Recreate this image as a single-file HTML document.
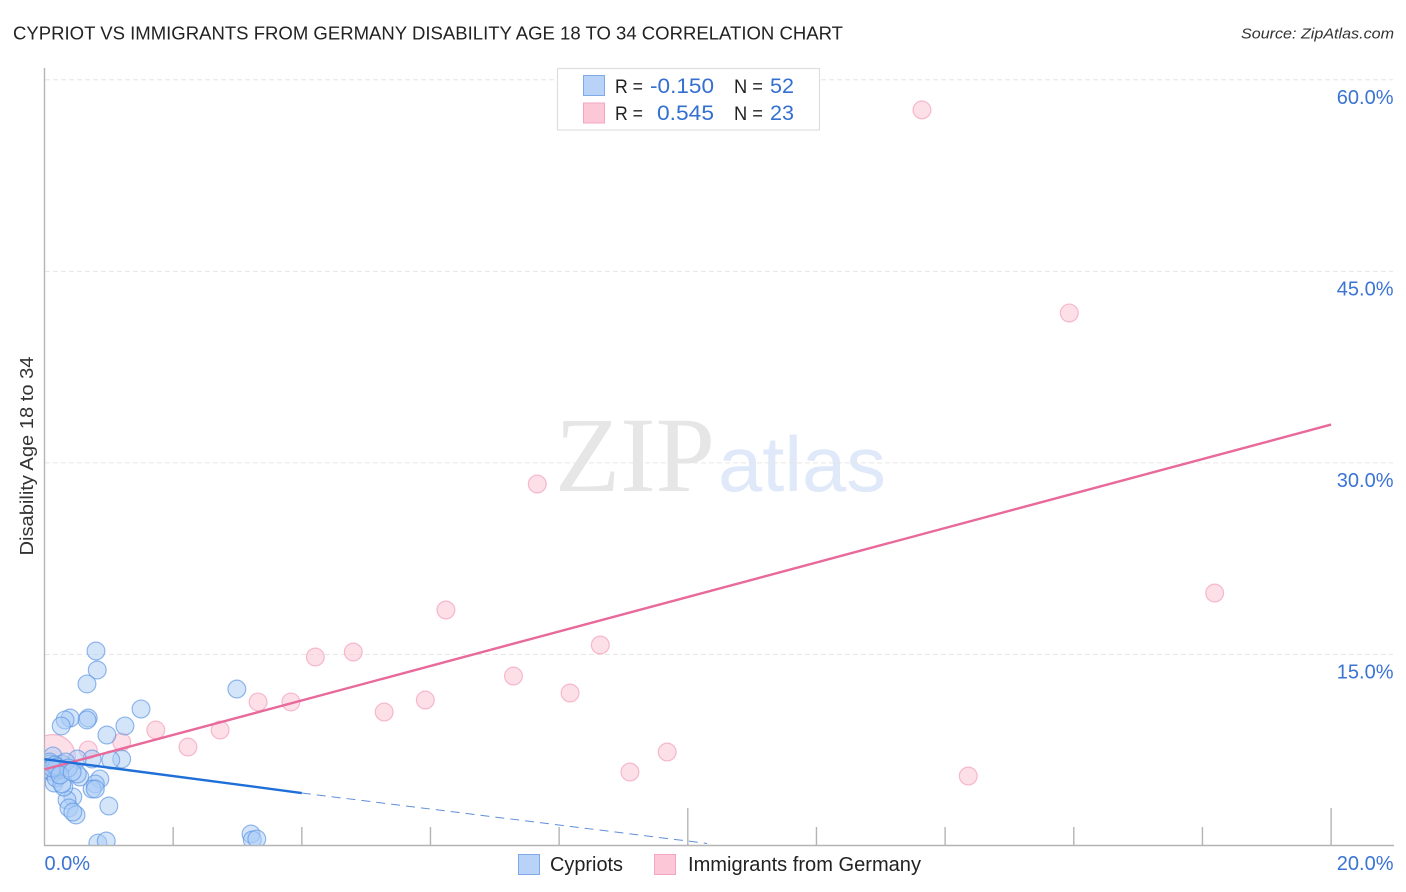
<!DOCTYPE html>
<html lang="en">
<head>
<meta charset="utf-8">
<title>Cypriot vs Immigrants from Germany Disability Age 18 to 34 Correlation Chart</title>
<style>
html,body{margin:0;padding:0;background:#fff;width:1406px;height:892px;overflow:hidden}
svg{display:block}
text{font-family:"Liberation Sans",sans-serif}
</style>
</head>
<body>
<svg id="chart" width="1406" height="892" viewBox="0 0 1406 892" xmlns="http://www.w3.org/2000/svg">
  <defs>
    <clipPath id="plot-clip"><rect x="45" y="60" width="1349" height="785"></rect></clipPath>
  </defs>
  <rect x="0" y="0" width="1406" height="892" fill="#fff"></rect>
  <text x="13" y="39.5" font-size="18.5" fill="#222" textLength="830" lengthAdjust="spacingAndGlyphs">CYPRIOT VS IMMIGRANTS FROM GERMANY DISABILITY AGE 18 TO 34 CORRELATION CHART</text>
  <text x="1241" y="38.5" font-size="15" font-style="italic" fill="#333" textLength="153" lengthAdjust="spacingAndGlyphs">Source: ZipAtlas.com</text>

  <g>
    <text x="555" y="491" font-size="107" style="font-family:'Liberation Serif',serif" fill="#e6e6e6" textLength="160" lengthAdjust="spacingAndGlyphs">ZIP</text>
    <text x="718" y="491" font-size="78" fill="#dfe9f9" textLength="168" lengthAdjust="spacingAndGlyphs">atlas</text>
  </g>

  <g id="grid"></g>
  <g id="axes"></g>
  <g id="points" clip-path="url(#plot-clip)"></g>
  <g id="trends"></g>
  <g id="labels"></g>

  <text transform="translate(33,456) rotate(-90)" text-anchor="middle" font-size="18" fill="#333" textLength="199" lengthAdjust="spacingAndGlyphs">Disability Age 18 to 34</text>

  <g>
    <rect x="557.5" y="68.5" width="262" height="61.5" fill="#fff" stroke="#dedede" stroke-width="1.2"></rect>
    <rect x="583.5" y="75.5" width="21" height="20" fill="#b8d3f7" stroke="#7faae6" stroke-width="1"></rect>
    <rect x="583.5" y="103" width="21" height="20" fill="#fcc8d8" stroke="#f2a6bf" stroke-width="1"></rect>
    <text x="615" y="93" font-size="19" fill="#222" textLength="28" lengthAdjust="spacingAndGlyphs">R =</text>
    <text x="650" y="93" font-size="21" fill="#3370d0" textLength="64" lengthAdjust="spacingAndGlyphs">-0.150</text>
    <text x="734" y="93" font-size="19" fill="#222" textLength="29" lengthAdjust="spacingAndGlyphs">N =</text>
    <text x="770" y="93" font-size="21" fill="#3370d0" textLength="24" lengthAdjust="spacingAndGlyphs">52</text>
    <text x="615" y="120" font-size="19" fill="#222" textLength="28" lengthAdjust="spacingAndGlyphs">R =</text>
    <text x="657" y="120" font-size="21" fill="#3370d0" textLength="57" lengthAdjust="spacingAndGlyphs">0.545</text>
    <text x="734" y="120" font-size="19" fill="#222" textLength="29" lengthAdjust="spacingAndGlyphs">N =</text>
    <text x="770" y="120" font-size="21" fill="#3370d0" textLength="24" lengthAdjust="spacingAndGlyphs">23</text>
  </g>

  <g>
    <rect x="518.5" y="854.5" width="21" height="20" fill="#b8d3f7" stroke="#7faae6" stroke-width="1"></rect>
    <text x="550" y="871" font-size="20" fill="#222" textLength="73" lengthAdjust="spacingAndGlyphs">Cypriots</text>
    <rect x="654.5" y="854.5" width="21" height="20" fill="#fcc8d8" stroke="#f2a6bf" stroke-width="1"></rect>
    <text x="688" y="871" font-size="20" fill="#222" textLength="233" lengthAdjust="spacingAndGlyphs">Immigrants from Germany</text>
  </g>
</svg>
<script>
// Data (percent values)
const yTickValues = [15, 30, 45, 60];
const yTickLabels = ["15.0%", "30.0%", "45.0%", "60.0%"];
const xTickValues = [2, 4, 6, 8, 10, 12, 14, 16, 18, 20];
const xMajorTicks = [10, 20];
const xEdgeValues = [0, 20];
const xEdgeLabels = ["0.0%", "20.0%"];

const cypriotX = [0.80,0.82,0.66,1.50,2.99,0.68,0.66,0.40,0.32,0.26,1.25,0.97,1.20,1.03,0.74,0.51,0.86,0.79,0.74,0.79,1.00,0.55,0.51,0.44,0.35,0.38,0.49,0.44,0.83,0.96,3.21,3.23,3.30,0.13,0.09,0.05,0.12,0.15,0.18,0.21,0.24,0.27,0.33,0.08,0.16,0.19,0.12,0.30,0.27,0.37,0.24,0.43];
const cypriotY = [15.27,13.78,12.69,10.73,12.29,10.02,9.87,10.02,9.87,9.40,9.40,8.69,6.81,6.73,6.81,6.81,5.25,4.86,4.46,4.46,3.13,5.40,5.64,3.84,3.60,2.98,2.43,2.66,0.23,0.39,0.94,0.47,0.55,7.05,6.42,5.95,5.79,4.93,5.32,5.95,6.11,6.42,6.58,6.58,6.34,6.19,6.11,4.62,4.86,6.11,5.56,5.79];

const immigrantX = [13.64,15.93,7.66,18.19,6.24,8.64,4.80,4.21,3.32,3.83,7.29,8.17,5.28,5.92,1.73,2.73,2.23,1.20,0.68,9.68,9.10,14.36,0.13];
const immigrantY = [57.64,41.74,28.35,19.81,18.48,15.74,15.19,14.80,11.28,11.28,13.31,11.98,10.49,11.43,9.08,9.08,7.75,8.14,7.52,7.36,5.79,5.48,6.97];
const immigrantWeight = [1,1,1,1,1,1,1,1,1,1,1,1,1,1,1,1,1,1,1,1,1,1,6.4];

const cypriotTrendX = [0, 4];
const cypriotTrendY = [6.8, 4.15];
const cypriotDashX = [4, 10.3];
const cypriotDashY = [4.15, 0.2];
const immigrantTrendX = [0, 20];
const immigrantTrendY = [6.0, 33.0];

const NS = 'http://www.w3.org/2000/svg';
const xScale = v => 44.5 + v * 64.33;
const yScale = v => 846 - v * 12.77;
const baseRadius = 8.9;

function make(tag, attrs) {
  const el = document.createElementNS(NS, tag);
  for (const k in attrs) el.setAttribute(k, attrs[k]);
  return el;
}

const grid = document.getElementById('grid');
const axes = document.getElementById('axes');
const points = document.getElementById('points');
const trends = document.getElementById('trends');
const labels = document.getElementById('labels');

yTickValues.forEach((v, i) => {
  const line = make('line', {x1: 45, x2: 1393, y1: yScale(v), y2: yScale(v), stroke: '#e6e6e6', 'stroke-width': 1, 'stroke-dasharray': '5 3'});
  
  
  grid.appendChild(line);
  const t = make('text', {x: 1393.5, y: yScale(v) + 24, 'text-anchor': 'end', 'font-size': 20, fill: '#3b74d3'});
  
  
  t.textContent = yTickLabels[i];
  labels.appendChild(t);
});

const yAxis = make('line', {x1: 44.5, x2: 44.5, y1: 68, y2: 846, stroke: '#b4b4b4', 'stroke-width': 1.4});


axes.appendChild(yAxis);

const xAxis = make('line', {x1: 44, x2: 1394, y1: 845.5, y2: 845.5, stroke: '#b4b4b4', 'stroke-width': 1.4});


axes.appendChild(xAxis);

xTickValues.forEach(v => {
  const major = xMajorTicks.includes(v);
  const tick = make('line', {x1: xScale(v), x2: xScale(v), y1: major ? 808 : 827, y2: 845, stroke: '#b4b4b4', 'stroke-width': 1.4});
  
  
  axes.appendChild(tick);
});

xEdgeValues.forEach((v, i) => {
  const t = make('text', {x: i === 0 ? xScale(v) : 1393.5, y: 870, 'text-anchor': i === 0 ? 'start' : 'end', 'font-size': 20, fill: '#3b74d3'});
  
  
  t.textContent = xEdgeLabels[i];
  labels.appendChild(t);
});

immigrantX.forEach((v, i) => {
  const c = make('circle', {cx: xScale(v), cy: yScale(immigrantY[i]), r: baseRadius * Math.sqrt(immigrantWeight[i]), fill: '#fbc4d6', 'fill-opacity': 0.55, stroke: '#f2a0bc', 'stroke-opacity': 0.7, 'stroke-width': 1.2});
  
  
  points.appendChild(c);
});

cypriotX.forEach((v, i) => {
  const c = make('circle', {cx: xScale(v), cy: yScale(cypriotY[i]), r: baseRadius, fill: '#a9cbf5', 'fill-opacity': 0.5, stroke: '#5a94e2', 'stroke-opacity': 0.65, 'stroke-width': 1.2});
  
  
  points.appendChild(c);
});

const immLine = make('line', {x1: xScale(immigrantTrendX[0]), y1: yScale(immigrantTrendY[0]), x2: xScale(immigrantTrendX[1]), y2: yScale(immigrantTrendY[1]), stroke: '#e8699a', 'stroke-width': 2.4});


trends.appendChild(immLine);

const cypLine = make('line', {x1: xScale(cypriotTrendX[0]), y1: yScale(cypriotTrendY[0]), x2: xScale(cypriotTrendX[1]), y2: yScale(cypriotTrendY[1]), stroke: '#1f6fd8', 'stroke-width': 2.4});


trends.appendChild(cypLine);

const cypDash = make('line', {x1: xScale(cypriotDashX[0]), y1: yScale(cypriotDashY[0]), x2: xScale(cypriotDashX[1]), y2: yScale(cypriotDashY[1]), stroke: '#5f8fd8', 'stroke-width': 1, 'stroke-dasharray': '9 6'});


trends.appendChild(cypDash);
</script>
</body>
</html>
